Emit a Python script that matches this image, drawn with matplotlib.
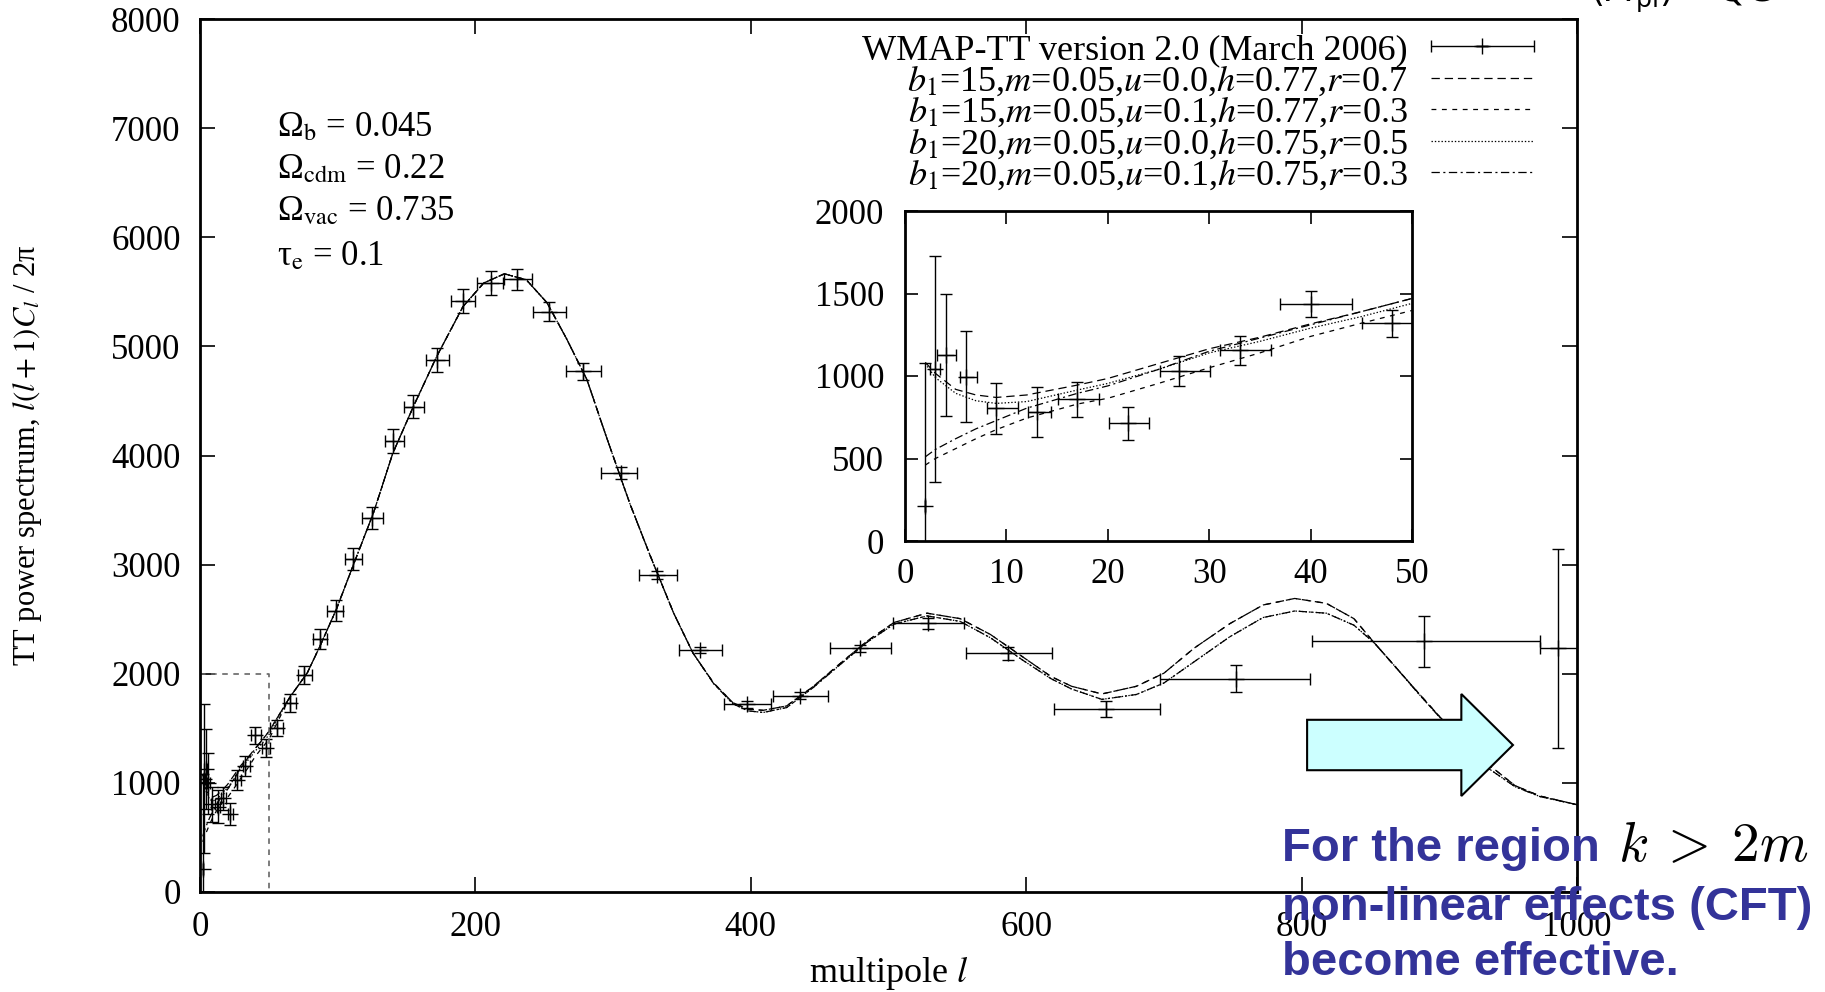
import numpy as np
import matplotlib
matplotlib.use('Agg')
import matplotlib.pyplot as plt
from matplotlib.patches import FancyArrow
from matplotlib.container import ErrorbarContainer
from matplotlib.legend_handler import HandlerErrorbar

plt.rcParams['font.family'] = ['Liberation Serif', 'DejaVu Serif']
plt.rcParams['mathtext.fontset'] = 'stix'
plt.rcParams['lines.scale_dashes'] = False

# ---------------- WMAP-TT binned data ----------------
wmap_l = [2, 3, 4, 6, 9, 13, 17, 22, 27, 33, 40, 48, 55.7, 65, 75.8, 87, 98.5, 111, 125,
          140, 155, 172, 191, 211, 230.5, 253.5, 278, 305.5, 331.6, 363, 397, 436, 479,
          529, 587, 658, 752, 889, 986]
wmap_val = [210, 1040, 1128, 996, 804, 783, 860, 713, 1030, 1158, 1435, 1320, 1505, 1730,
            1989, 2316, 2578, 3049, 3425, 4134, 4449, 4876, 5420, 5578, 5616, 5319, 4770,
            3837, 2906, 2218, 1720, 1799, 2233, 2462, 2187, 1675, 1956, 2298, 2234]
wmap_lmin = [2, 2.5, 3.2, 5.4, 8.1, 12.1, 15.1, 20.1, 25.1, 31.1, 37.0, 45.1, 51, 61, 71,
             82, 92, 105, 118, 134, 148, 164, 182, 201, 221, 242, 266, 291, 318.5, 348,
             380.5, 416, 457.5, 503, 556, 620, 697, 807.5, 973]
wmap_lmax = [2, 3.5, 5.0, 7.1, 11.1, 14.4, 19.1, 24.1, 30.1, 36.1, 44.1, 51, 60, 70, 81.6,
             92, 104, 118, 133, 148, 163, 181, 200, 220, 241, 266, 291, 317, 346.7, 379,
             415, 456, 502, 555, 619, 697, 806, 973, 1010]
wmap_err_lo = [800, 682, 369, 277, 158, 155, 111, 102, 91, 91, 79, 81, 75, 80, 85, 90, 95,
               100, 100, 107, 107, 110, 110, 110, 96, 90, 76, 55, 40, 30, 30, 30, 35, 50,
               58, 75, 125, 232, 910]
wmap_err_hi = [867, 685, 368, 279, 156, 152, 106, 101, 91, 87, 81, 81, 75, 80, 85, 90, 95,
               100, 100, 107, 107, 110, 110, 110, 96, 90, 76, 55, 40, 30, 30, 30, 35, 50,
               58, 75, 125, 232, 910]

# ---------------- model curves ----------------
low_l = [2, 3, 5, 7, 9, 12, 17, 20, 25, 30, 35, 40, 45, 50]
model_A_low = [1083, 1016, 919, 885, 870, 885, 945, 985, 1075, 1165, 1235, 1316, 1390, 1470]
model_B_low = [1075, 990, 895, 850, 834, 845, 915, 955, 1040, 1140, 1210, 1290, 1360, 1440]
model_C_low = [460, 500, 560, 620, 675, 745, 830, 865, 955, 1050, 1140, 1240, 1320, 1397]
model_D_low = [510, 555, 620, 680, 730, 805, 895, 940, 1040, 1150, 1230, 1310, 1390, 1470]

high_l = [65, 78, 87, 99, 111, 126, 140, 155, 172, 191, 206, 221, 237, 252, 266, 281, 295,
          312, 327, 344, 358, 373, 387, 398, 409, 426, 445, 465, 484, 504, 528, 552, 574,
          598, 618, 633, 655, 680, 700, 722, 748, 772, 795, 818, 838, 853, 868, 883, 900,
          918, 936, 955, 973, 1000]
high_upper = [1780, 2010, 2250, 2590, 2985, 3475, 4020, 4450, 4910, 5365, 5580, 5665, 5610,
              5400, 5075, 4695, 4175, 3565, 3080, 2555, 2190, 1915, 1735, 1675, 1665, 1705,
              1880, 2095, 2295, 2470, 2555, 2505, 2360, 2150, 1975, 1885, 1815, 1885, 2005,
              2235, 2460, 2630, 2690, 2645, 2505, 2280, 2065, 1850, 1610, 1380, 1165, 975,
              880, 800]
high_lower = [1780, 2010, 2250, 2590, 2985, 3475, 4020, 4450, 4910, 5365, 5580, 5665, 5610,
              5400, 5075, 4695, 4175, 3565, 3080, 2555, 2190, 1910, 1725, 1660, 1645, 1690,
              1870, 2085, 2285, 2455, 2530, 2480, 2330, 2120, 1955, 1860, 1765, 1810, 1915,
              2110, 2340, 2515, 2575, 2555, 2445, 2280, 2065, 1845, 1605, 1365, 1130, 965,
              875, 800]

labels = ['WMAP-TT version 2.0 (March 2006)',
          r'$b_1$=15,$m$=0.05,$u$=0.0,$h$=0.77,$r$=0.7',
          r'$b_1$=15,$m$=0.05,$u$=0.1,$h$=0.77,$r$=0.3',
          r'$b_1$=20,$m$=0.05,$u$=0.0,$h$=0.75,$r$=0.5',
          r'$b_1$=20,$m$=0.05,$u$=0.1,$h$=0.75,$r$=0.3']

params_text = ['Ω$_{\\rm b}$ = 0.045', 'Ω$_{\\rm cdm}$ = 0.22',
               'Ω$_{\\rm vac}$ = 0.735', 'τ$_{\\rm e}$ = 0.1']

x_ticks = [0, 200, 400, 600, 800, 1000]
y_ticks = [0, 1000, 2000, 3000, 4000, 5000, 6000, 7000, 8000]
inset_xticks = [0, 10, 20, 30, 40, 50]
inset_yticks = [0, 500, 1000, 1500, 2000]
inset_xlim = (0, 50)
inset_ylim = (0, 2000)

# ---------------- assemble ----------------
curves = [
    (low_l + high_l, model_A_low + high_upper, dict(dashes=(6, 3.5))),
    (low_l + high_l, model_C_low + high_upper, dict(dashes=(3.5, 4))),
    (low_l + high_l, model_B_low + high_lower, dict(dashes=(1, 1.4))),
    (low_l + high_l, model_D_low + high_lower, dict(dashes=(6, 2.5, 1.5, 2.5))),
]

wl = np.array(wmap_l, float)
wv = np.array(wmap_val, float)
xerr = [wl - np.array(wmap_lmin), np.array(wmap_lmax) - wl]
yerr = [np.array(wmap_err_lo), np.array(wmap_err_hi)]

W, H = 1825, 992
fig = plt.figure(figsize=(W / 100, H / 100), dpi=100)
ax = fig.add_axes([200 / W, 100 / H, 1377 / W, 873 / H])

eb_kw = dict(fmt='+', color='k', ms=11, mew=1.0, elinewidth=1.0, capsize=4, capthick=1.0)


def draw(a):
    eb = a.errorbar(wl, wv, xerr=xerr, yerr=yerr, label=labels[0], **eb_kw)
    lines = []
    for (xs, ys, st), lab in zip(curves, labels[1:]):
        ln, = a.plot(xs, ys, color='k', lw=0.9, label=lab, **st)
        lines.append(ln)
    return eb, lines


eb, lines = draw(ax)

ax.set_xlim(0, 1000)
ax.set_ylim(0, 8000)
ax.set_xticks(x_ticks)
ax.set_yticks(y_ticks)
ax.tick_params(direction='in', length=11, width=1.2, top=True, right=True,
               labelsize=25, pad=14)
for s in ax.spines.values():
    s.set_linewidth(2.0)

# inset-region marker
ax.plot([inset_xlim[0], inset_xlim[1], inset_xlim[1]],
        [inset_ylim[1], inset_ylim[1], inset_ylim[0]],
        color='#666666', lw=1.2, dashes=(4, 4))

ax.set_xlabel('multipole $l$', fontsize=26)
ax.xaxis.set_label_coords(0.5, -0.0714)
ax.set_ylabel('TT power spectrum, $l(l+1)C_l$ / 2π', fontsize=22)
ax.yaxis.set_label_coords(-0.113, 0.5)

for txt, yb in zip(params_text, [135.7, 177.7, 220, 265]):
    ax.text((276.7 - 200) / 1377, (892 - yb) / 873, txt, transform=ax.transAxes,
            fontsize=25, va='baseline', ha='left')

leg = ax.legend(handles=[eb] + lines, labels=labels, loc='upper right',
                bbox_to_anchor=(0.9688, 0.983), markerfirst=False, frameon=False,
                fontsize=26, handlelength=2.86, handletextpad=0.64,
                labelspacing=-0.084, borderpad=0, borderaxespad=0,
                handler_map={ErrorbarContainer: HandlerErrorbar(xerr_size=1.43, yerr_size=0.0)})

# arrow
arrow = FancyArrow(804, 1347, 149.5, 0, width=462, head_width=935, head_length=37.5,
                   length_includes_head=True, fc='#ccffff', ec='k', lw=1.5,
                   zorder=6, clip_on=False)
ax.add_patch(arrow)

# inset
axi = fig.add_axes([905 / W, 451 / H, 507 / W, 330 / H])
draw(axi)
axi.set_xlim(*inset_xlim)
axi.set_ylim(*inset_ylim)
axi.set_xticks(inset_xticks)
axi.set_yticks(inset_yticks)
axi.tick_params(direction='in', length=9, width=1.2, top=True, right=True, labelsize=25)
axi.tick_params(axis='x', pad=12)
axi.tick_params(axis='y', pad=15)
for s in axi.spines.values():
    s.set_linewidth(2.0)

# slide overlay text
blue = '#333399'
for txt, yb in zip(['For the region', 'non-linear effects (CFT)', 'become effective.'],
                   [861, 919.5, 975]):
    fig.text(1282 / W, 1 - yb / H, txt, color=blue, fontsize=34, fontweight='bold',
             family=['Liberation Sans', 'DejaVu Sans'], va='baseline', ha='left', zorder=10)
fig.text(1618 / W, 1 - 861 / H, r'$k\:>\:2m$', fontsize=40, math_fontfamily='cm',
         color='k', va='baseline', ha='left', zorder=10)
fig.text(1590 / W, 1 - 2 / H, r'$(M_{\rm pl}) \sim {\rm QG}$', fontsize=26,
         math_fontfamily='dejavusans', color='k', va='baseline', ha='left', zorder=10)

fig.savefig('out.png', dpi=100)
